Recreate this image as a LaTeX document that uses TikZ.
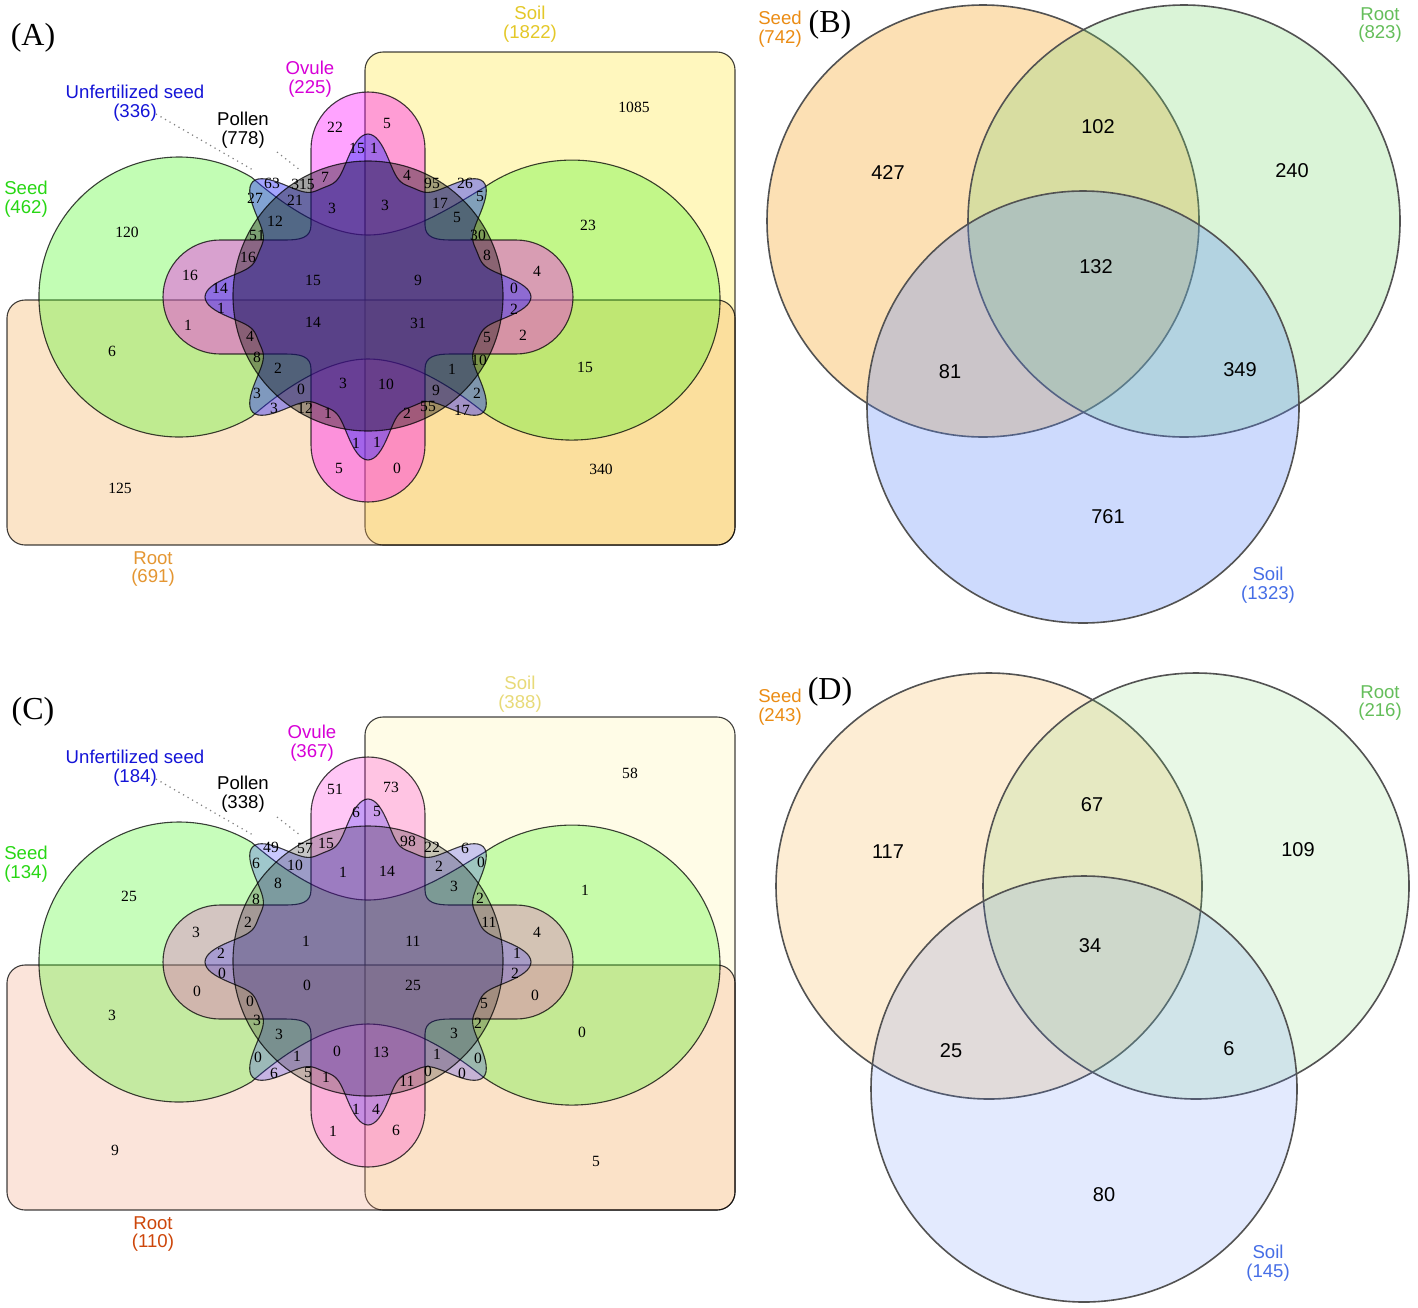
\documentclass[tikz,border=0pt]{standalone}
\usepackage{fontspec}
\setmainfont{Liberation Serif}
\setsansfont{Liberation Sans}
\definecolor{cseed}{RGB}{70,250,30}
\definecolor{csoil}{RGB}{255,232,60}
\definecolor{croot}{RGB}{245,175,90}
\definecolor{crootC}{RGB}{240,150,110}
\definecolor{covule}{RGB}{255,0,255}
\definecolor{cunf}{RGB}{40,40,255}
\definecolor{cpol}{RGB}{0,0,0}
\definecolor{lseed}{RGB}{40,215,20}
\definecolor{lovule}{RGB}{215,0,215}
\definecolor{lunf}{RGB}{20,20,215}
\definecolor{lsoilA}{RGB}{228,200,40}
\definecolor{lrootA}{RGB}{228,150,50}
\definecolor{lsoilC}{RGB}{232,218,120}
\definecolor{lrootC}{RGB}{205,70,10}
\definecolor{bseed}{RGB}{248,175,60}
\definecolor{broot}{RGB}{120,215,110}
\definecolor{bsoil}{RGB}{90,135,250}
\definecolor{lbseed}{RGB}{235,140,20}
\definecolor{lbroot}{RGB}{100,190,90}
\definecolor{lbsoil}{RGB}{70,110,230}
\tikzset{
 setline/.style={draw=black, draw opacity=.75, line width=.55pt},
 Asoil/.style={setline, fill=csoil, fill opacity=.33},
 Aroot/.style={setline, fill=croot, fill opacity=.33},
 Aseed/.style={setline, fill=cseed, fill opacity=.33},
 Aovule/.style={setline, fill=covule, fill opacity=.36},
 Aunf/.style={setline, fill=cunf, fill opacity=.42},
 Apol/.style={setline, fill=cpol, fill opacity=.36},
 Csoil/.style={setline, fill=csoil, fill opacity=.12},
 Croot/.style={setline, fill=crootC, fill opacity=.25},
 Cseed/.style={setline, fill=cseed, fill opacity=.3},
 Covule/.style={setline, fill=covule!85!red, fill opacity=.22},
 Cunf/.style={setline, fill=cunf, fill opacity=.25},
 Cpol/.style={setline, fill=cpol, fill opacity=.22},
 num/.style={font=\fontsize{7.8}{8}\selectfont, inner sep=0pt},
 bnum/.style={font=\sffamily\fontsize{10}{11}\selectfont, inner sep=0pt},
 lab/.style={font=\sffamily\fontsize{9.3}{9.3}\selectfont, align=center, inner sep=0pt},
 panel/.style={font=\fontsize{16}{17}\selectfont, inner sep=0pt},
 pointer/.style={draw=gray, dotted, line width=.6pt},
 circ/.style={draw=black!68, line width=.8pt},
}
\newcommand\sixsets[1]{%
 \path[#1soil,rounded corners=9pt] (365,52) rectangle (735,545);
 \path[#1root,rounded corners=9pt] (7,300) rectangle (735,545);
 \path[#1seed] (368,235) .. controls (325,235) and (280,202) .. (251.7,177.4)
   arc[start angle=-58.7, end angle=-301.3, radius=140]
   .. controls (280,392) and (325,359) .. (368,359)
   .. controls (411,359) and (456,390) .. (484,412.6)
   arc[start angle=126.5, end angle=-126.5, x radius=148, y radius=140]
   .. controls (456,204) and (411,235) .. (368,235) -- cycle;
 \path[#1ovule] (311,225) -- (311,149) arc[start angle=180, end angle=360, radius=57]
   -- (425,225) .. controls (425,238) and (436,240) .. (451,240) -- (516,240)
   arc[start angle=270, end angle=450, radius=57]
   -- (451,354) .. controls (436,354) and (425,356) .. (425,369) -- (425,445)
   arc[start angle=0, end angle=180, radius=57]
   -- (311,369) .. controls (311,356) and (300,354) .. (285,354) -- (220,354)
   arc[start angle=90, end angle=270, radius=57]
   -- (285,240) .. controls (300,240) and (311,238) .. (311,225) -- cycle;
 \path[#1unf] plot[domain=0:360, samples=361, variable=\t]
   ({368+(118+45*((1+cos(8*\t))/2)^2)*cos(\t)},{297+(118+45*((1+cos(8*\t))/2)^2)*sin(\t)}) -- cycle;
 \path[#1pol] (368,296) circle[radius=135];
}
\begin{document}
\begin{tikzpicture}[x=0.5pt,y=-0.5pt]
\useasboundingbox (0,0) rectangle (1418,1307);
\fill[white] (0,0) rectangle (1418,1307);

% ---------------- Panel A
\sixsets{A}
\node[panel] (pA) at (33,38) {(A)};
\node[lab, text=lsoilA] (lsoilA) at (530,24) {Soil\\(1822)};
\node[lab, text=lovule] (lovA) at (310,79) {Ovule\\(225)};
\node[lab, text=lunf] (lunfA) at (135,103) {Unfertilized seed\\(336)};
\node[lab, text=black] (lpolA) at (243,130) {Pollen\\(778)};
\node[lab, text=lseed] (lseedA) at (26,199) {Seed\\(462)};
\node[lab, text=lrootA] (lrootA) at (153,569) {Root\\(691)};
\coordinate (unfAs) at (156,114);
\coordinate (unfA) at (253,170);
\coordinate (polAs) at (277,152);
\coordinate (polA) at (300,170);
\draw[pointer] (unfAs) -- (unfA);
\draw[pointer] (polAs) -- (polA);
\foreach \px/\py/\t [count=\i] in {335/127/22, 387/123/5, 357/148/15, 374/148/1, 325/177/7, 303/184/315, 272/183/63, 255/198/27, 295/200/21, 332/208/3, 385/205/3, 407/175/4, 432/183/95, 465/183/26, 480/196/5, 440/203/17, 457/217/5, 478/235/30, 275/221/12, 257/235/51, 248/257/16, 487/255/8, 190/275/16, 537/271/4, 220/288/14, 313/280/15, 418/280/9, 514/288/0, 221/308/1, 514/309/2, 313/322/14, 418/323/31, 188/325/1, 523/335/2, 250/336/4, 487/337/5, 257/357/8, 479/360/10, 278/368/2, 452/369/1, 343/383/3, 386/384/10, 301/389/0, 436/390/9, 257/393/3, 477/393/2, 274/408/3, 305/408/12, 328/413/1, 407/413/2, 428/406/55, 462/410/17, 356/443/1, 377/442/1, 339/468/5, 397/468/0, 127/232/120, 634/107/1085, 588/225/23, 112/351/6, 585/367/15, 120/488/125, 601/469/340}
  \node[num] (na\i) at (\px,\py) {\t};

% ---------------- Panel C
\begin{scope}[shift={(0,665)}]
\sixsets{C}
\end{scope}
\node[panel] (pC) at (33,712) {(C)};
\node[lab, text=lsoilC] (lsoilC) at (520,694) {Soil\\(388)};
\node[lab, text=lovule] (lovC) at (312,743) {Ovule\\(367)};
\node[lab, text=lunf] (lunfC) at (135,768) {Unfertilized seed\\(184)};
\node[lab, text=black] (lpolC) at (243,794) {Pollen\\(338)};
\node[lab, text=lseed] (lseedC) at (26,864) {Seed\\(134)};
\node[lab, text=lrootC] (lrootC) at (153,1234) {Root\\(110)};
\coordinate (unfCs) at (156,779);
\coordinate (unfC) at (253,835);
\coordinate (polCs) at (277,817);
\coordinate (polC) at (300,835);
\draw[pointer] (unfCs) -- (unfC);
\draw[pointer] (polCs) -- (polC);
\foreach \px/\py/\t [count=\i] in {335/789/51, 391/787/73, 356/812/6, 377/811/5, 326/843/15, 305/848/57, 271/847/49, 256/863/6, 295/865/10, 343/872/1, 387/871/14, 408/841/98, 432/847/22, 465/848/6, 481/862/0, 439/866/2, 454/886/3, 480/898/2, 278/883/8, 256/899/8, 248/922/2, 489/922/11, 196/932/3, 537/932/4, 221/953/2, 306/941/1, 413/941/11, 517/953/1, 222/973/0, 515/973/2, 307/985/0, 413/985/25, 197/991/0, 535/995/0, 250/1001/0, 484/1003/5, 257/1020/3, 478/1023/2, 279/1034/3, 454/1033/3, 337/1051/0, 381/1052/13, 297/1056/1, 437/1054/1, 258/1057/0, 478/1058/0, 274/1073/6, 308/1072/5, 326/1077/1, 407/1081/11, 428/1071/0, 462/1073/0, 356/1109/1, 376/1109/4, 333/1131/1, 396/1130/6, 129/896/25, 630/773/58, 585/890/1, 112/1015/3, 582/1032/0, 115/1150/9, 596/1161/5}
  \node[num] (nc\i) at (\px,\py) {\t};

% ---------------- Panel B
\path[circ, fill=bseed, fill opacity=.38] (983,221) circle[radius=216];
\path[circ, fill=broot, fill opacity=.27] (1184,221) circle[radius=216];
\path[circ, fill=bsoil, fill opacity=.3] (1083,407) circle[radius=216];
\node[panel] (pB) at (830,25) {(B)};
\node[lab, text=lbseed] (lseedB) at (780,29) {Seed\\(742)};
\node[lab, text=lbroot] (lrootB) at (1380,25) {Root\\(823)};
\node[lab, text=lbsoil] (lsoilB) at (1268,585) {Soil\\(1323)};
\foreach \px/\py/\t [count=\i] in {888/173/427, 1098/127/102, 1292/171/240, 1096/267/132, 950/372/81, 1240/370/349, 1108/517/761}
  \node[bnum] (nb\i) at (\px,\py) {\t};

% ---------------- Panel D
\path[circ, fill=bseed, fill opacity=.22] (989,886) circle[radius=213];
\path[circ, fill=broot, fill opacity=.17] (1196,886) circle[radius=213];
\path[circ, fill=bsoil, fill opacity=.17] (1084,1089) circle[radius=213];
\node[panel] (pD) at (830,692) {(D)};
\node[lab, text=lbseed] (lseedD) at (780,707) {Seed\\(243)};
\node[lab, text=lbroot] (lrootD) at (1380,703) {Root\\(216)};
\node[lab, text=lbsoil] (lsoilD) at (1268,1263) {Soil\\(145)};
\foreach \px/\py/\t [count=\i] in {888/852/117, 1092/805/67, 1298/850/109, 1090/946/34, 951/1051/25, 1229/1049/6, 1104/1195/80}
  \node[bnum] (nd\i) at (\px,\py) {\t};
\end{tikzpicture}
\end{document}
